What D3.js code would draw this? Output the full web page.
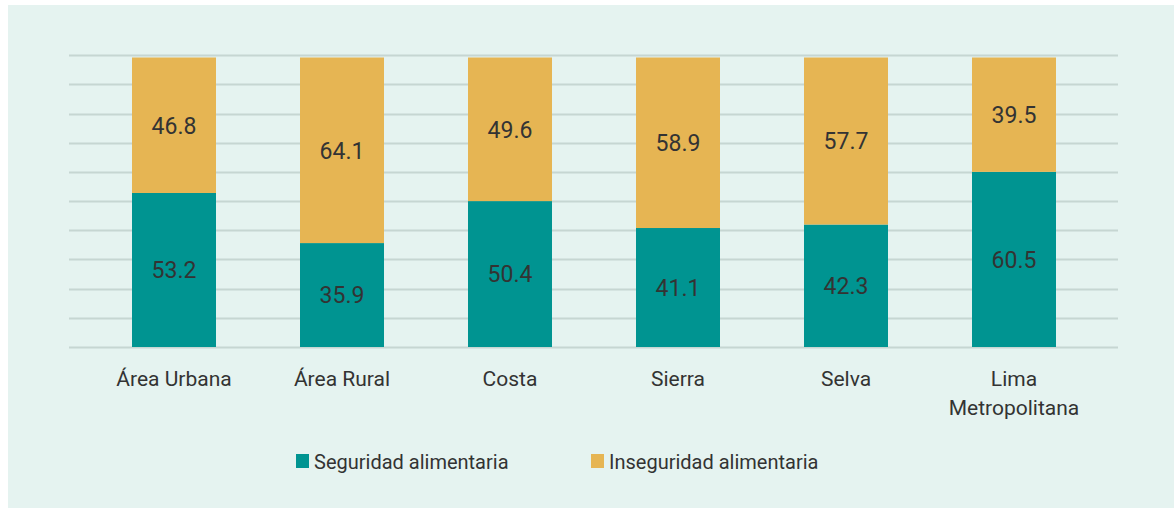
<!DOCTYPE html>
<html>
<head>
<meta charset="utf-8">
<script src="https://cdn.jsdelivr.net/npm/d3@7"></script>
<style>
  body { margin: 0; background: #fff; }
  svg text { font-family: Roboto, "Liberation Sans", sans-serif; fill: #333; }
</style>
</head>
<body>
<div id="chart"></div>
<script>
// Data

const categories = ["Área Urbana", "Área Rural", "Costa", "Sierra", "Selva", "Lima Metropolitana"];
const seguridad = [53.2, 35.9, 50.4, 41.1, 42.3, 60.5];
const inseguridad = [46.8, 64.1, 49.6, 58.9, 57.7, 39.5];
const seriesNames = ["Seguridad alimentaria", "Inseguridad alimentaria"];
const colors = ["#009491", "#e6b553"];

const W = 1174, H = 508;

const svg = d3.select("#chart")
  .append("svg")
  .attr("width", W)
  .attr("height", H);

// Panel background

svg.append("rect")
  .attr("x", 8)
  .attr("y", 5)
  .attr("width", W - 8)
  .attr("height", H - 5)
  .attr("fill", "#e5f3f0");

// Scales

const x = d3.scaleBand()
  .domain(categories)
  .range([90, 1098])
  .paddingInner(0.5)
  .paddingOuter(0.25);

const y = d3.scaleLinear()
  .domain([0, 100])
  .range([347, 57.5]);

// Gridlines

svg.selectAll(".grid")
  .data(d3.range(0, 11).map(i => i * 10.08))
  .join("line")
  .attr("x1", 69)
  .attr("x2", 1118)
  .attr("y1", d => Math.round(y(d)) + 0.5)
  .attr("y2", d => Math.round(y(d)) + 0.5)
  .attr("stroke", "#c6d6d2")
  .attr("stroke-width", 2);

// Stacked data

const rows = categories.map((c, i) => ({ cat: c, s: seguridad[i], n: inseguridad[i] }));
const stack = d3.stack().keys(["s", "n"])(rows);

const layers = svg.selectAll(".layer")
  .data(stack)
  .join("g")
  .attr("fill", (d, i) => colors[i]);

layers.selectAll("rect")
  .data(d => d)
  .join("rect")
  .attr("x", d => x(d.data.cat))
  .attr("width", x.bandwidth())
  .attr("y", d => y(d[1]))
  .attr("height", d => y(d[0]) - y(d[1]));

// Value labels

layers.selectAll("text")
  .data(d => d)
  .join("text")
  .attr("x", d => x(d.data.cat) + x.bandwidth() / 2)
  .attr("y", d => y((d[0] + d[1]) / 2))
  .attr("dy", "0.36em")
  .attr("text-anchor", "middle")
  .style("font-size", "23px")
  .text(d => (d[1] - d[0]).toFixed(1));

// Category labels

const labelLines = {
  "Lima Metropolitana": ["Lima", "Metropolitana"]
};

svg.selectAll(".cat")
  .data(categories)
  .join("text")
  .attr("x", d => x(d) + x.bandwidth() / 2)
  .attr("y", 386)
  .attr("text-anchor", "middle")
  .style("font-size", "21px")
  .each(function (d) {
    const lines = labelLines[d] || [d];
    d3.select(this).selectAll("tspan")
      .data(lines)
      .join("tspan")
      .attr("x", x(d) + x.bandwidth() / 2)
      .attr("dy", (l, i) => i === 0 ? 0 : 29)
      .text(l => l);
  });

// Legend

const legendX = [296, 591];

const legend = svg.selectAll(".legend")
  .data(seriesNames)
  .join("g")
  .attr("transform", (d, i) => `translate(${legendX[i]},454)`);

legend.append("rect")
  .attr("width", 13)
  .attr("height", 14)
  .attr("fill", (d, i) => colors[i]);

legend.append("text")
  .attr("x", 18)
  .attr("y", 15)
  .style("font-size", "20px")
  .text(d => d);
</script>
</body>
</html>
